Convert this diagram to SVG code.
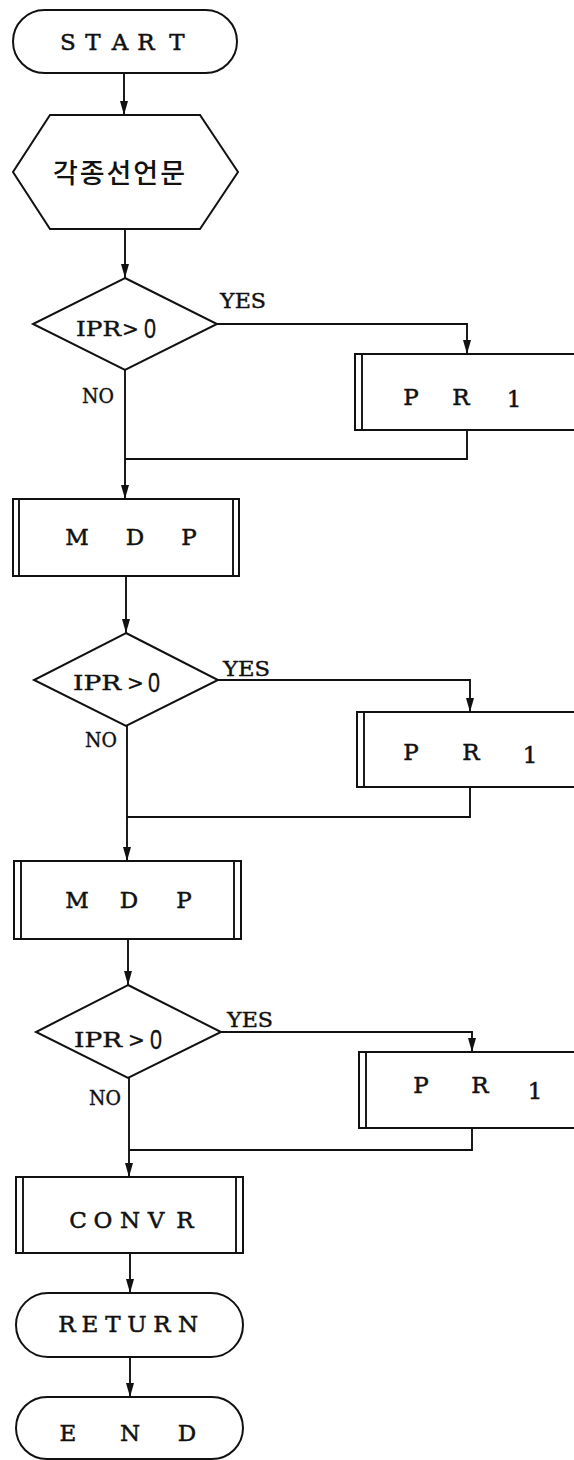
<svg xmlns="http://www.w3.org/2000/svg" width="574" height="1460" viewBox="0 0 574 1460">
<style>
.s{fill:#fff;stroke:#111;stroke-width:2}
.c{fill:none;stroke:#111;stroke-width:1.9}
.bar{stroke:#111;stroke-width:1.9}
.t{font-family:"DejaVu Serif","Liberation Serif",serif;font-size:23px;fill:#111;stroke:#111;stroke-width:0.5;text-anchor:middle}
.l{font-family:"DejaVu Serif","Liberation Serif",serif;font-size:20px;fill:#111;stroke:#111;stroke-width:0.4}
.k{font-family:"Noto Sans CJK KR","Noto Sans",sans-serif;font-size:27px;font-weight:500;fill:#111}
.z{font-family:"Liberation Sans","DejaVu Sans",sans-serif;font-size:27px;fill:#111;stroke:#111;stroke-width:0.3}
</style>
<defs>
<marker id="ar" viewBox="0 0 14 8" refX="14" refY="4" markerWidth="14" markerHeight="8" markerUnits="userSpaceOnUse" orient="auto">
<path d="M0,0 L14,4 L0,8 z" fill="#111"/>
</marker>
</defs>
<rect width="574" height="1460" fill="#fff"/>
<g id="connectors">
<path class="c" d="M124,73 V115" marker-end="url(#ar)"/>
<path class="c" d="M125,229 V278" marker-end="url(#ar)"/>
<path class="c" d="M217,324 H467 V354" marker-end="url(#ar)"/>
<path class="c" d="M467,430 V459 H125"/>
<path class="c" d="M125,370 V499" marker-end="url(#ar)"/>
<path class="c" d="M126,576 V633" marker-end="url(#ar)"/>
<path class="c" d="M218,680 H470 V712" marker-end="url(#ar)"/>
<path class="c" d="M470,787 V817 H127"/>
<path class="c" d="M127,726 V861" marker-end="url(#ar)"/>
<path class="c" d="M128,939 V985" marker-end="url(#ar)"/>
<path class="c" d="M221,1032 H472 V1052" marker-end="url(#ar)"/>
<path class="c" d="M472,1128 V1150 H129"/>
<path class="c" d="M129,1078 V1177" marker-end="url(#ar)"/>
<path class="c" d="M130,1253 V1293" marker-end="url(#ar)"/>
<path class="c" d="M130,1357 V1397" marker-end="url(#ar)"/>
</g>
<g id="start">
<rect class="s" x="13" y="10" width="224" height="63" rx="31.5"/>
<text class="t" x="68 93 120 146 177" y="50">START</text>
</g>
<g id="declare">
<polygon class="s" points="50,115 200,115 238,172 200,229 50,229 13,172"/>
<text class="k" x="53" y="183" textLength="132" lengthAdjust="spacing">각종선언문</text>
</g>
<g id="dec1">
<polygon class="s" points="125,278 217,324 125,370 33,324"/>
<text class="l" x="76" y="336" textLength="45" lengthAdjust="spacingAndGlyphs">IPR</text>
<text class="l" x="122" y="336">&gt;</text>
<text class="z" x="144" y="338" textLength="12" lengthAdjust="spacingAndGlyphs">0</text>
<text class="l" x="220" y="308" textLength="46" lengthAdjust="spacingAndGlyphs">YES</text>
<text class="l" x="82" y="403" textLength="32" lengthAdjust="spacingAndGlyphs">NO</text>
</g>
<g id="pr1a">
<rect class="s" x="355" y="354" width="230" height="76"/>
<line class="bar" x1="362" y1="354" x2="362" y2="430"/>
<text class="t" x="411 461" y="405">PR</text>
<text class="t" x="514" y="407">1</text>
</g>
<g id="mdp1">
<rect class="s" x="13" y="499" width="226" height="77"/>
<line class="bar" x1="19" y1="499" x2="19" y2="576"/>
<line class="bar" x1="233" y1="499" x2="233" y2="576"/>
<text class="t" x="77 135 189" y="545">MDP</text>
</g>
<g id="dec2">
<polygon class="s" points="126,633 218,680 126,726 34,680"/>
<text class="l" x="73" y="690" textLength="48" lengthAdjust="spacingAndGlyphs">IPR</text>
<text class="l" x="127" y="690">&gt;</text>
<text class="z" x="148" y="692" textLength="12" lengthAdjust="spacingAndGlyphs">0</text>
<text class="l" x="223" y="676" textLength="47" lengthAdjust="spacingAndGlyphs">YES</text>
<text class="l" x="85" y="747" textLength="32" lengthAdjust="spacingAndGlyphs">NO</text>
</g>
<g id="pr1b">
<rect class="s" x="357" y="712" width="230" height="75"/>
<line class="bar" x1="364" y1="712" x2="364" y2="787"/>
<text class="t" x="411 471" y="760">PR</text>
<text class="t" x="530" y="763">1</text>
</g>
<g id="mdp2">
<rect class="s" x="14" y="861" width="227" height="78"/>
<line class="bar" x1="21" y1="861" x2="21" y2="939"/>
<line class="bar" x1="234" y1="861" x2="234" y2="939"/>
<text class="t" x="77 129 184" y="908">MDP</text>
</g>
<g id="dec3">
<polygon class="s" points="128,985 221,1032 128,1078 36,1032"/>
<text class="l" x="74" y="1047" textLength="48" lengthAdjust="spacingAndGlyphs">IPR</text>
<text class="l" x="128" y="1047">&gt;</text>
<text class="z" x="150" y="1049" textLength="12" lengthAdjust="spacingAndGlyphs">0</text>
<text class="l" x="227" y="1027" textLength="46" lengthAdjust="spacingAndGlyphs">YES</text>
<text class="l" x="89" y="1105" textLength="32" lengthAdjust="spacingAndGlyphs">NO</text>
</g>
<g id="pr1c">
<rect class="s" x="359" y="1052" width="230" height="76"/>
<line class="bar" x1="366" y1="1052" x2="366" y2="1128"/>
<text class="t" x="421 480" y="1093">PR</text>
<text class="t" x="535" y="1099">1</text>
</g>
<g id="convr">
<rect class="s" x="16" y="1177" width="227" height="76"/>
<line class="bar" x1="23" y1="1177" x2="23" y2="1253"/>
<line class="bar" x1="236" y1="1177" x2="236" y2="1253"/>
<text class="t" x="78 103 130 156 185" y="1228">CONVR</text>
</g>
<g id="return">
<rect class="s" x="16" y="1293" width="227" height="64" rx="32"/>
<text class="t" x="67 90 113 137 162 188" y="1332">RETURN</text>
</g>
<g id="end">
<rect class="s" x="16" y="1397" width="227" height="62" rx="31"/>
<text class="t" x="68 130 187" y="1441">END</text>
</g>
</svg>
